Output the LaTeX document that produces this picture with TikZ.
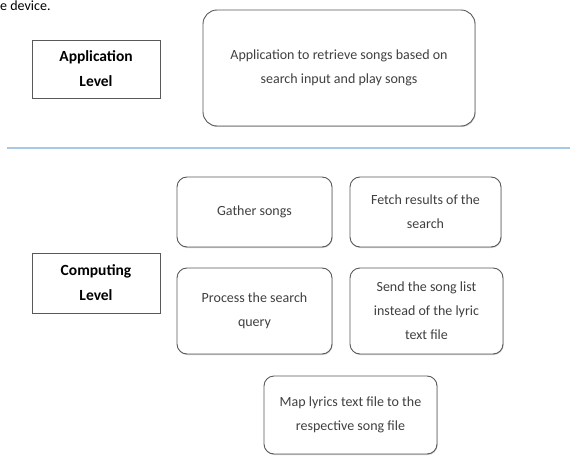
\documentclass[tikz,border=0pt]{standalone}
\usepackage{fontspec}
\setmainfont{Carlito}
\usepackage{tikz}
\usetikzlibrary{positioning,shadows}
\definecolor{boxline}{HTML}{595959}
\definecolor{boxtext}{HTML}{404040}
\definecolor{splitblue}{HTML}{A9C8E6}

\begin{document}
\begin{tikzpicture}[
  levelbox/.style={
    draw=boxline,
    line width=0.9pt,
    fill=white,
    drop shadow={shadow xshift=0.8pt, shadow yshift=-1.2pt, fill=black!45},
    minimum width=128pt,
    align=center,
    inner sep=2pt,
    font=\fontsize{15.5}{25}\selectfont\bfseries
  },
  taskbox/.style={
    draw=boxline,
    line width=0.9pt,
    fill=white,
    rounded corners=10pt,
    drop shadow={shadow xshift=0.6pt, shadow yshift=-1pt, fill=black!40},
    align=center,
    inner sep=4pt,
    text=boxtext,
    font=\fontsize{14}{24}\selectfont
  }
]
  \useasboundingbox (0pt,0pt) rectangle (570pt,-468pt);

  % Leftover caption text from the page above
  \node[anchor=north west, inner sep=0pt, font=\fontsize{14}{16}\selectfont] (pagetext) at (0pt,-0.5pt) {e device.};

  % Application level
  \node[levelbox, minimum height=58pt] (applvl) at (96pt,-69pt) {Application\\Level};
  \node[taskbox, rounded corners=14pt, minimum width=272pt, minimum height=116pt] (appbox) at (339pt,-68pt)
    {Application to retrieve songs based on\\search input and play songs};

  % Separator between levels
  \coordinate (sepL) at (7pt,-148pt);
  \coordinate (sepR) at (570pt,-148pt);
  \draw[splitblue, line width=1.6pt] (sepL) -- (sepR);

  % Computing level
  \node[levelbox, minimum height=60pt] (complvl) at (96pt,-283pt) {Computing\\Level};

  \node[taskbox, minimum width=155pt, minimum height=70pt] (gather) at (254.5pt,-212pt) {Gather songs};
  \node[taskbox, minimum width=151pt, minimum height=70pt] (fetch) at (425.5pt,-212pt) {Fetch results of the\\search};
  \node[taskbox, minimum width=155pt, minimum height=86pt] (process) at (254.5pt,-311pt) {Process the search\\query};
  \node[taskbox, minimum width=153pt, minimum height=86pt] (send) at (426.5pt,-311pt) {Send the song list\\instead of the lyric\\text file};
  \node[taskbox, minimum width=173pt, minimum height=78pt] (map) at (350.5pt,-415pt) {Map lyrics text file to the\\respective song file};

\end{tikzpicture}
\end{document}
